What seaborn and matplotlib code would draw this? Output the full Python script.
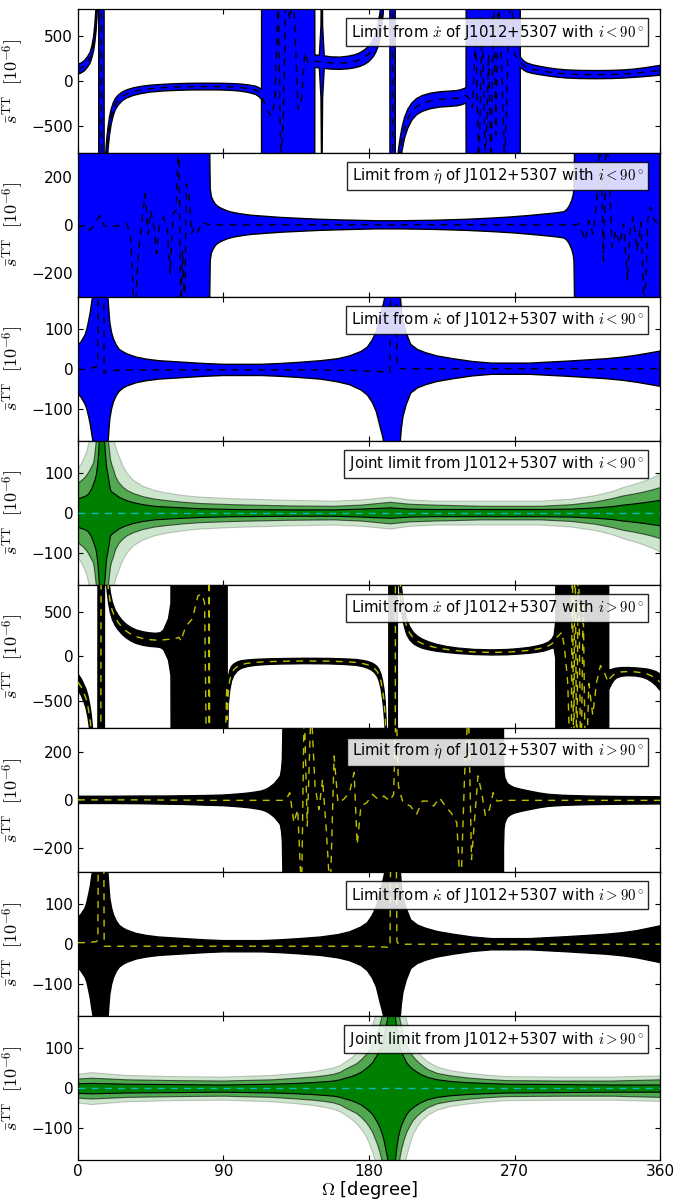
import numpy as np
import seaborn as sns
import matplotlib
matplotlib.use("Agg")
import matplotlib.pyplot as plt

# --- dados (Omega em graus, s_TT em 1e-6) ---
# cada linha: (Omega, centro da faixa / linha tracejada, meia-largura da faixa)
# C = meia-largura tao grande que a faixa cobre todo o painel
C = 9999

# painel 1: x-dot, i < 90
painel1 = [
    (0, 130, 55), (2, 145, 55), (4, 170, 57), (6, 215, 58), (7.5, 260, 60), (8.7, 330, 65),
    (9.7, 420, 80), (10.5, 540, 100), (11.2, 700, 140), (11.8, 900, 180), (12.3, 1200, 200),
    (12.8, 1500, 200),
    (13.0, 1500, C), (14.4, 1500, C), (14.6, -1500, C), (16.0, -1500, C),
    (16.2, -1500, 200), (16.8, -1150, 200), (17.4, -900, 170), (18.0, -750, 150), (18.7, -620, 120),
    (19.5, -500, 100), (20.5, -400, 85), (21.7, -320, 72), (23, -260, 62), (25, -210, 55),
    (27.5, -170, 48), (30, -145, 45), (34, -120, 42), (39, -100, 40), (45, -85, 38), (52, -75, 37),
    (60, -68, 37), (70, -63, 37), (80, -62, 37), (88, -63, 37), (95, -67, 38), (100, -73, 39),
    (104, -82, 41), (107, -92, 43), (110, -105, 46), (112, -125, 50), (113.5, -150, 55),
    (114.2, -200, C), (117.7, -350, C), (119.8, -390, C), (121.9, -200, C), (123.9, 1000, C),
    (125.5, -1000, C), (127, -400, C), (128.6, 1000, C), (131.1, 680, C), (133.2, 1000, C),
    (134.8, 280, C), (136.2, -315, C), (138.3, -200, C), (140.3, 315, C), (142.4, 200, C),
    (145.8, 210, C),
    (146.5, 220, 70), (149.3, 215, 70), (150.3, 215, 400), (150.8, 215, 1500), (151.3, 215, 400),
    (152.3, 210, 70), (156, 200, 68), (162, 197, 68), (167, 205, 70), (171, 218, 72),
    (174, 235, 75), (177, 262, 80), (179.5, 295, 85), (181.5, 335, 90), (183, 380, 100),
    (184.5, 440, 110), (185.8, 520, 125), (187, 640, 145), (188, 780, 170), (188.8, 950, 200),
    (189.5, 1500, 200), (192.9, 1500, 200),
    (193.1, 1500, C), (194.5, 1500, C), (194.7, -1500, C), (196, -1500, C),
    (196.3, -1500, 200), (197.2, -1200, 200), (198.2, -950, 180), (199.3, -780, 150),
    (200.5, -640, 130), (202, -520, 115), (204, -420, 105), (206.5, -340, 95), (209.5, -285, 90),
    (213, -250, 88), (218, -222, 86), (224, -205, 85), (230, -198, 85), (235, -190, 85),
    (238, -175, 85), (240, -160, 85),
    (241.2, -180, C), (244, -300, C), (246, 500, C), (248, -1000, C), (250, 700, C),
    (252, -1000, C), (254, 300, C), (255.5, -1000, C), (257, 1000, C), (258.5, -600, C),
    (260, 1000, C), (262, 200, C), (264, -1000, C), (266, 400, C), (268, 1000, C), (270, 300, C),
    (273, 220, C),
    (273.6, 210, 55), (275.5, 175, 52), (277.5, 152, 50), (281, 132, 48), (286, 115, 46),
    (291, 100, 45), (296, 88, 45), (302, 78, 45), (310, 72, 45), (320, 70, 45), (330, 72, 45),
    (338, 78, 45), (344, 86, 46), (349, 95, 48), (353, 103, 50), (357, 112, 53), (360, 118, 55),
]

# painel 2: eta-dot, i < 90
painel2 = [
    (0, -7, C), (4.3, -3, C), (6.6, -24, C), (9, -10, C), (11.4, 18, C), (13.8, 39, C),
    (16.1, -3, C), (18.5, -10, C), (25.6, -3, C), (30.4, 4, C), (32.7, -65, C), (35, -400, C),
    (37.5, -107, C), (39.8, 32, C), (41.5, 130, C), (43.4, -38, C), (45, 60, C), (47, -10, C),
    (48.6, -121, C), (50.5, 4, C), (52.9, 32, C), (55.3, -24, C), (57, -205, C), (58.8, 46, C),
    (60.7, 60, C), (62.4, 400, C), (63.6, -400, C), (64.7, -107, C), (66, -400, C), (67, 171, C),
    (68.8, 116, C), (70.2, -38, C), (71.8, -10, C), (74, -31, C), (76.6, 11, C), (81.0, 0, C),
    (81.5, 0, 300), (81.8, 0, 150), (82.5, 0, 118), (83.7, 0, 100), (85, 0, 86), (86.5, 0, 77),
    (88, 0, 71), (89.6, 0, 66), (92, 0, 59), (95, 0, 53), (98, 0, 49), (101.5, 0, 45),
    (107, 0, 40), (113, 0, 37), (119, 0, 34), (125, 0, 31), (137, 0, 27), (150, 0, 23),
    (165, 0, 20), (184.5, 0, 17), (200, 0, 17), (220, 0, 19), (240, 0, 23), (255.6, 0, 28),
    (268, 0, 33), (279, 0, 39), (287, 0, 44), (293, 0, 48), (297, 0, 51), (300.7, 0, 55),
    (302.5, 0, 65), (303.8, 0, 78), (305.4, 0, 102), (306.3, 0, 125), (306.8, 0, 150),
    (307.1, 0, 300),
    (307.5, 0, C), (310, 4, C), (313.7, -65, C), (316, 18, C), (318.5, -38, C), (320.9, 88, C),
    (323.3, 400, C), (325, -149, C), (326.8, 400, C), (328.7, 185, C), (330.4, -93, C),
    (332.7, -24, C), (335, -79, C), (337.5, 4, C), (339.8, -233, C), (341.5, -24, C),
    (343.4, 32, C), (345.8, -107, C), (348.2, 11, C), (350.5, -400, C), (352.4, 18, C),
    (354, 74, C), (356.4, 18, C), (360, 0, C),
]

# painel 3: kappa-dot, i < 90
painel3 = [
    (0, -2, 60), (2, -2, 70), (4.3, -2, 86), (5.5, -1, 100), (6.6, 0, 120), (7.6, 1, 140),
    (8.5, 2, 165), (9.5, 3, 190), (10.3, 4, 230), (11, 5, 300), (11.7, 6, 400), (12.3, 8, 600),
    (12.7, 400, 2000), (15.8, 400, 2000),
    (16.2, -11, 600), (16.6, -10, 400), (17, -8, 300), (17.7, -6, 230), (18.5, -5, 185),
    (19.1, -5, 150), (19.7, -5, 120), (20.8, -5, 95), (22, -4, 78), (23.7, -4, 63), (25.6, -4, 52),
    (28, -3, 45), (30.4, -3, 40), (36, -3, 32), (42.2, -3, 27), (50, -3, 23), (66, -3, 19),
    (78, -3, 16), (89.6, -3, 14), (113.4, -3, 14), (125, -3, 16), (137, -3, 19), (150, -3, 23),
    (160.8, -4, 29), (168, -4, 36), (175, -5, 48), (179, -6, 60), (182, -6, 78), (184.5, -7, 100),
    (186.8, -7, 137), (188.3, -8, 160), (189.7, -8, 185), (190.5, -9, 230), (191.5, -10, 300),
    (192.3, -10, 400), (193, -11, 600),
    (193.6, 400, 2000), (196.5, 400, 2000),
    (197.3, 6, 600), (197.7, 4, 400), (198, 2, 300), (198.7, 1, 230), (199.3, 1, 185),
    (200, 0, 150), (201, 0, 120), (203, 0, 90), (205.8, 0, 61), (210, 0, 48), (215, 0, 40),
    (222, 0, 32), (232, 0, 25), (244, 0, 18), (255.7, 0, 14), (279.4, 0, 14), (303, 0, 19),
    (315, 0, 22), (326.8, 0, 25), (337, 0, 29), (345.8, 0, 34), (353, 0, 39), (360, 0, 44),
]

# painel 4: limite conjunto, i < 90 -> (Omega, faixa escura, faixa media, faixa clara)
painel4 = [
    (0, 36, 75, 113), (1.5, 38, 80, 122), (3, 40, 85, 134), (4.2, 42, 90, 145), (5.2, 44, 95, 155),
    (6.3, 48, 102, 175), (7.4, 55, 110, 200), (8.4, 63, 118, 240), (9.4, 74, 126, 300),
    (10.2, 83, 150, 380), (11, 95, 180, 500), (12, 126, 250, 800), (13, 185, 500, 800),
    (14.6, 800, 800, 800), (16, 185, 500, 800), (17.3, 117, 250, 800), (18.5, 90, 180, 500),
    (19.8, 57, 134, 300), (20.7, 53, 120, 230), (21.6, 50, 110, 190), (23, 46, 91, 165),
    (25, 40, 76, 143), (27.5, 35, 65, 118), (30, 31, 57, 100), (34, 26, 49, 82), (40, 21, 41, 67),
    (47, 17, 35, 57), (55, 15, 31, 50), (65, 13, 27, 44), (75, 11, 24, 40), (96, 9, 21, 36),
    (130, 8, 18, 32), (158, 8, 17, 30), (175, 10, 20, 33), (193, 13, 27, 40), (205, 10, 22, 33),
    (220, 9, 20, 30), (250, 9, 17, 30), (286, 9, 17, 30), (305, 10, 21, 35), (320, 13, 28, 44),
    (330, 16, 36, 54), (337, 20, 43, 64), (344, 23, 48, 72), (350, 26, 53, 80), (355, 29, 58, 88),
    (360, 32, 64, 98),
]

# painel 5: x-dot, i > 90
painel5 = [
    (0, -285, 90), (2, -340, 92), (3.5, -400, 95), (5, -470, 105), (6.2, -560, 120),
    (7.3, -680, 140), (8.2, -820, 170), (9, -1000, 200), (12.3, -1500, 200),
    (12.6, -1500, C), (14.1, -1500, C), (14.3, 1500, C), (16.1, 1500, C),
    (16.4, 1500, 200), (17.2, 1150, 200), (18, 900, 170), (19, 720, 135), (20, 600, 110),
    (21.2, 510, 95), (23, 430, 85), (25, 375, 80), (27.5, 320, 77), (30, 280, 75), (33, 245, 75),
    (36, 220, 75), (40, 200, 75), (44, 188, 75), (48, 182, 75), (51, 182, 82), (53, 185, 110),
    (54.5, 188, 170), (56, 190, 230), (57.5, 190, 400),
    (58.8, 190, C), (62.4, 214, C), (64, 170, C), (65, 250, C), (67, 343, C), (70.7, 417, C),
    (74.2, 675, C), (76.6, 694, C), (78.3, 600, C), (79.7, -1500, C), (80.8, -1500, C),
    (81.1, 1500, C), (81.5, -1500, C), (90.5, -1500, C), (92, -330, C),
    (92.3, -700, 420), (93, -380, 150), (93.8, -270, 110), (95, -190, 80), (96.5, -145, 62),
    (98.5, -112, 50), (101, -90, 42), (105, -75, 36), (110, -65, 33), (117, -58, 31),
    (125, -54, 30), (140, -50, 30), (155, -52, 30), (165, -58, 31), (172, -66, 32), (176, -78, 34),
    (179, -92, 37), (181.5, -110, 40), (183.5, -135, 45), (185, -165, 52), (186.3, -210, 62),
    (187.4, -275, 78), (188.3, -360, 95), (189.2, -480, 120), (190, -650, 150),
    (190.8, -1000, 200), (192.2, -1500, 200),
    (192.5, -1500, C), (196.2, -1500, C), (196.4, 1500, C), (197.3, 1500, C),
    (197.6, 1500, 200), (198.3, 1150, 200), (199, 900, 160), (199.8, 700, 130), (200.8, 540, 110),
    (202, 420, 95), (203.5, 320, 82), (205.3, 255, 72), (207.5, 205, 62), (210, 170, 55),
    (213, 142, 50), (217, 118, 44), (222, 96, 38), (228, 78, 33), (235, 63, 30), (245, 50, 28),
    (256, 45, 28), (265, 48, 29), (272, 56, 30), (279, 68, 32), (284, 82, 35), (288, 98, 38),
    (291, 118, 42), (293, 140, 50), (294.5, 165, 70), (295.5, 180, 200),
    (296.2, 214, C), (299.3, 270, C), (301, 85, C), (302.9, -284, C), (305, -1500, C),
    (305.8, 1500, C), (306.6, -1500, C), (307.4, 1500, C), (308.5, -1500, C), (309.5, 1500, C),
    (311, -1500, C), (312.5, 600, C), (314, -1500, C), (316, -300, C), (318.4, -650, C),
    (320.8, -284, C), (323.2, -100, C), (325.5, -170, C), (327.8, -284, C),
    (328.3, -260, 110), (330, -225, 80), (331.5, -200, 65), (333, -185, 55), (336, -172, 48),
    (340, -168, 45), (345, -172, 45), (349, -182, 48), (352, -195, 55), (355, -218, 65),
    (357.5, -245, 77), (360, -285, 90),
]

# painel 6: eta-dot, i > 90
painel6 = [
    (0, 2, 15), (20, 2, 15), (40, 2, 16), (55, 1, 17), (66, 1, 18), (78, 0, 20), (89.6, 0, 22),
    (96, 0, 25), (101.5, 0, 28), (106, 0, 31), (110, 0, 35), (113.4, 0, 39), (116, 0, 45),
    (118, 0, 52), (120, 0, 62), (121.5, 0, 70), (122.8, 0, 81), (124.2, 0, 92), (125.2, 0, 102),
    (125.9, 0, 130), (126.4, 0, 171), (127, 0, 400),
    (127.6, 0, C), (128.8, 4, C), (131, 32, C), (133.5, -93, C), (135.9, -38, C), (138.3, -400, C),
    (139.9, 400, C), (141.8, -107, C), (144.2, 400, C), (146.6, 60, C), (149, -38, C),
    (151.3, 88, C), (153.7, -135, C), (156, -400, C), (158.4, 185, C), (160.8, -10, C),
    (164.3, 4, C), (167.9, 32, C), (170.8, 116, C), (172.7, -184, C), (175, -24, C),
    (178.6, -10, C), (182.2, 25, C), (185.7, 4, C), (189.2, 18, C), (192.8, -3, C),
    (195.2, 25, C), (196.8, 400, C), (198.2, 60, C), (201, -10, C), (205.7, -24, C),
    (209.4, -58, C), (213, -3, C), (216.5, -3, C), (220, -24, C), (223.6, 11, C), (227.2, -24, C),
    (230.8, -52, C), (234.3, -93, C), (236.7, -400, C), (239.1, 102, C), (241.5, 400, C),
    (243.4, -247, C), (245, -107, C), (247.4, 102, C), (249.7, 32, C), (252, -65, C),
    (254.5, -38, C), (256.8, 32, C), (259.2, -3, C), (262.8, 0, C),
    (263.2, 0, 200), (263.5, 0, 120), (264, 0, 95), (265, 0, 78), (266, 0, 68), (268, 0, 59),
    (270, 0, 53), (274, 0, 46), (279, 0, 39), (285, 0, 31), (291, 0, 25), (300, 0, 21),
    (315, 0, 18), (335, 0, 16), (360, 0, 15),
]

# painel 7: kappa-dot, i > 90
painel7 = [
    (0, 4, 62), (2, 4, 72), (4.3, 4, 86), (5.5, 5, 100), (6.6, 5, 120), (7.6, 5, 140),
    (8.5, 5, 165), (9.5, 6, 190), (10.3, 6, 230), (11, 6, 300), (11.7, 8, 400), (12.3, 10, 600),
    (12.7, 400, 2000), (15.8, 400, 2000),
    (16.2, -5, 600), (16.6, -5, 400), (17, -5, 300), (17.7, -5, 230), (18.5, -5, 185),
    (19.1, -5, 150), (19.7, -5, 120), (20.8, -5, 95), (22, -5, 78), (23.7, -5, 63), (25.6, -5, 52),
    (28, -5, 45), (30.4, -5, 40), (36, -5, 32), (42.2, -5, 27), (50, -5, 23), (66, -5, 19),
    (78, -5, 16), (89.6, -5, 14), (113.4, -5, 14), (125, -5, 16), (137, -5, 19), (150, -5, 23),
    (160.8, -5, 29), (168, -5, 36), (175, -5, 48), (179, -6, 60), (182, -6, 78), (184.5, -6, 100),
    (186.8, -7, 137), (188.3, -7, 160), (189.7, -7, 185), (190.5, -7, 230), (191.5, -8, 300),
    (192.3, -8, 400), (193, -8, 600),
    (193.6, 400, 2000), (196.5, 400, 2000),
    (197.3, 6, 600), (197.7, 4, 400), (198, 2, 300), (198.7, 1, 230), (199.3, 1, 185),
    (200, 0, 150), (201, 0, 120), (203, 0, 90), (205.8, 0, 61), (210, 0, 48), (215, 0, 40),
    (222, 0, 32), (232, 0, 25), (244, 0, 18), (255.7, 0, 14), (279.4, 0, 14), (303, 0, 19),
    (315, 0, 22), (326.8, 0, 25), (337, 0, 29), (345.8, 0, 34), (353, 0, 40), (360, 0, 46),
]

# painel 8: limite conjunto, i > 90 -> (Omega, faixa escura, faixa media, faixa clara)
painel8 = [
    (0, 12, 24, 36), (8, 13, 26, 40), (20, 12, 24, 36), (30, 11, 22, 33), (60, 10, 20, 30),
    (90, 9, 19, 29), (120, 11, 22, 33), (135, 13, 26, 38), (145, 15, 29, 42), (152, 17, 32, 47),
    (158, 19, 36, 52), (162, 22, 41, 58), (165, 26, 48, 66), (168, 29, 54, 74), (172, 35, 62, 88),
    (175, 41, 72, 102), (178, 50, 85, 120), (180, 57, 96, 138), (182, 65, 110, 160),
    (183.5, 75, 125, 180), (185, 85, 140, 200), (186.5, 98, 160, 240), (188, 115, 185, 300),
    (189, 130, 210, 380), (190, 150, 250, 500), (191, 170, 320, 700), (192, 200, 500, 800),
    (194, 800, 800, 800), (196, 180, 400, 800), (197, 145, 280, 600), (198, 120, 200, 400),
    (199, 103, 170, 300), (200, 90, 150, 230), (201.5, 77, 128, 195), (203, 65, 110, 170),
    (205, 55, 94, 140), (207, 48, 80, 115), (209.5, 41, 69, 97), (212, 35, 60, 82),
    (216, 28, 48, 67), (222, 22, 38, 54), (230, 18, 32, 45), (240, 15, 27, 39), (252, 13, 23, 34),
    (265, 11, 20, 30), (300, 10, 19, 29), (330, 9, 19, 29), (360, 9, 22, 32),
]

rotulos = [
    r'Limit from $\dot{x}$ of J1012+5307 with $i<90^\circ$',
    r'Limit from $\dot{\eta}$ of J1012+5307 with $i<90^\circ$',
    r'Limit from $\dot{\kappa}$ of J1012+5307 with $i<90^\circ$',
    r'Joint limit from J1012+5307 with $i<90^\circ$',
    r'Limit from $\dot{x}$ of J1012+5307 with $i>90^\circ$',
    r'Limit from $\dot{\eta}$ of J1012+5307 with $i>90^\circ$',
    r'Limit from $\dot{\kappa}$ of J1012+5307 with $i>90^\circ$',
    r'Joint limit from J1012+5307 with $i>90^\circ$',
]
limites_y = [800, 300, 180, 180, 800, 300, 180, 180]
ticks_y = [[-500, 0, 500], [-200, 0, 200], [-100, 0, 100], [-100, 0, 100],
           [-500, 0, 500], [-200, 0, 200], [-100, 0, 100], [-100, 0, 100]]
ticks_x = [0, 90, 180, 270, 360]

# --- estilo ---
sns.set_theme(style="ticks", rc={
    "xtick.direction": "in", "ytick.direction": "in",
    "xtick.top": True, "ytick.right": True,
})
plt.rcParams['font.family'] = ['DejaVu Sans']
plt.rcParams['mathtext.fontset'] = 'cm'
plt.rcParams['xtick.labelsize'] = 11
plt.rcParams['ytick.labelsize'] = 11
plt.rcParams['xtick.major.size'] = 3.5
plt.rcParams['ytick.major.size'] = 3.5
plt.rcParams['xtick.major.width'] = 0.8
plt.rcParams['ytick.major.width'] = 0.8
plt.rcParams['xtick.major.pad'] = 3
plt.rcParams['xtick.color'] = 'black'
plt.rcParams['ytick.color'] = 'black'
plt.rcParams['text.color'] = 'black'
plt.rcParams['axes.labelcolor'] = 'black'
plt.rcParams['axes.linewidth'] = 0.9
plt.rcParams['axes.edgecolor'] = 'black'
plt.rcParams['lines.dashed_pattern'] = [5, 4.5]

AZUL = '#0000ff'
AMARELO = (0.75, 0.75, 0.0)
CIANO = (0.0, 0.75, 0.75)
VERDE = (0.0, 0.5, 0.0)


def faixa(ax, linhas, cor, cor_linha):
    x, meio, meia = (np.array(c, dtype=float) for c in zip(*linhas))
    ax.fill_between(x, meio - meia, meio + meia, facecolor=cor, edgecolor='black',
                    linewidth=1.0, zorder=1)
    sns.lineplot(x=x, y=meio, ax=ax, color=cor_linha, linestyle='--', linewidth=1.0,
                 estimator=None, sort=False, zorder=3)


def conjunto(ax, linhas):
    x, escuro, medio, claro = (np.array(c, dtype=float) for c in zip(*linhas))
    for hw, a in [(claro, 0.2), (medio, 0.6), (escuro, 1.0)]:
        ax.fill_between(x, -hw, hw, facecolor=VERDE, edgecolor='black', alpha=a,
                        linewidth=0.8, zorder=1)
    sns.lineplot(x=x, y=np.zeros(len(x)), ax=ax, color=CIANO, linestyle='--',
                 linewidth=1.0, estimator=None, sort=False, zorder=3)


fig, axes = plt.subplots(8, 1, sharex=True, figsize=(6.77, 12.01), dpi=100)
fig.subplots_adjust(left=0.1152, right=0.9749, top=0.9925, bottom=0.0341, hspace=0)

faixa(axes[0], painel1, AZUL, 'black')
faixa(axes[1], painel2, AZUL, 'black')
faixa(axes[2], painel3, AZUL, 'black')
conjunto(axes[3], painel4)
faixa(axes[4], painel5, 'black', AMARELO)
faixa(axes[5], painel6, 'black', AMARELO)
faixa(axes[6], painel7, 'black', AMARELO)
conjunto(axes[7], painel8)

for ax, lim, tk, rot in zip(axes, limites_y, ticks_y, rotulos):
    ax.set_xlim(0, 360)
    ax.set_ylim(-lim, lim)
    ax.set_yticks(tk)
    ax.set_xticks(ticks_x)
    ax.set_ylabel(r'$\bar{s}^{\rm TT}\ \ [10^{-6}]$', fontsize=13)
    ax.text(0.972, 0.905, rot, transform=ax.transAxes, ha='right', va='top', fontsize=10.7,
            zorder=10,
            bbox=dict(boxstyle='square,pad=0.3', facecolor='white', edgecolor='black',
                      alpha=0.85))

axes[-1].set_xlabel(r'$\Omega$ [degree]', fontsize=13, labelpad=0)
fig.align_ylabels(axes)

fig.savefig('out.png', dpi=100)
